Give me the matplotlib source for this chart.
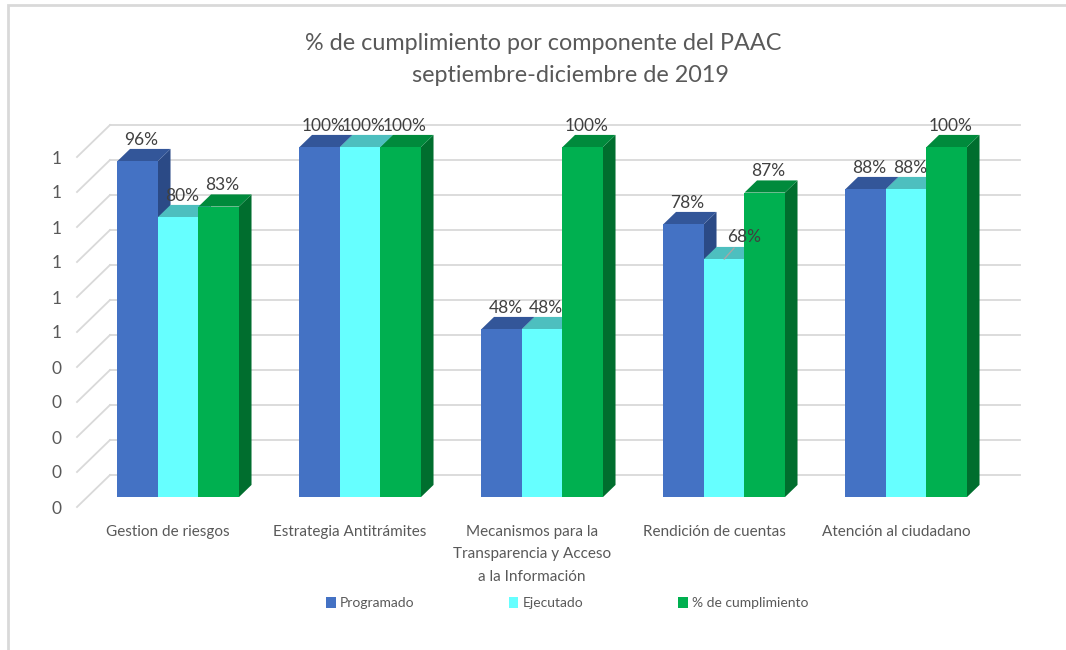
import numpy as np
import matplotlib.pyplot as plt
from matplotlib.patches import Polygon, Patch, Rectangle

# datos
componentes = ['Gestion de riesgos',
               'Estrategia Antitrámites',
               'Mecanismos para la\nTransparencia y Acceso\na la Información',
               'Rendición de cuentas',
               'Atención al ciudadano']
programado = [0.96, 1.00, 0.48, 0.78, 0.88]
ejecutado = [0.80, 1.00, 0.48, 0.68, 0.88]
cumplimiento = [0.83, 1.00, 1.00, 0.87, 1.00]
series = ['Programado', 'Ejecutado', '% de cumplimiento']
ticks_y = np.arange(0, 1.001, 0.1)

# estilo
plt.rcParams['font.family'] = ['Lato', 'DejaVu Sans']
GRIS_TXT = '#595959'
GRIS_GRID = '#D9D9D9'
frente = ['#4472C4', '#66FFFF', '#00B050']
tapa = ['#335699', '#4DBFBF', '#008A3C']
lado = ['#2B4A86', '#3FA6A6', '#006E2E']

W, H = 1066, 650
fig = plt.figure(figsize=(W / 100, H / 100), dpi=100)
ax = fig.add_axes([77 / W, 1 - 507 / H, 910 / W, 350 / H])
ax.set_xlim(-0.5, 4.5)
ax.set_ylim(0, 1)

# profundidad (3D simulado) en unidades de datos
ddx = 33 * 5 / 910
ddy = 32 / 350
f0, f1 = 0.31, 0.69
bw = 40.5 * 5 / 910

# paredes: fondo y lateral
for v in ticks_y:
    ax.plot([-0.5 + ddx, 4.5 + ddx], [v + ddy, v + ddy], color=GRIS_GRID, lw=1.3,
            clip_on=False, zorder=1)
    ax.plot([-0.5, -0.5 + ddx], [v, v + ddy], color=GRIS_GRID, lw=1.3,
            clip_on=False, zorder=1)

# barras
valores = [programado, ejecutado, cumplimiento]
bx, by = (f1 - f0) * ddx, (f1 - f0) * ddy
z = 2
for i in range(len(componentes)):
    for j, vals in enumerate(valores):
        v = vals[i]
        x0 = i + f0 * ddx + (j - 1.5) * bw
        x1 = x0 + bw
        yb = f0 * ddy
        yt = v + f0 * ddy
        ax.add_patch(Polygon([(x1, yb), (x1 + bx, yb + by), (x1 + bx, yt + by), (x1, yt)],
                             closed=True, fc=lado[j], ec='none', clip_on=False, zorder=z))
        ax.add_patch(Polygon([(x0, yt), (x1, yt), (x1 + bx, yt + by), (x0 + bx, yt + by)],
                             closed=True, fc=tapa[j], ec='none', clip_on=False, zorder=z + 1))
        ax.add_patch(Rectangle((x0, yb), bw, v, fc=frente[j], ec='none',
                               clip_on=False, zorder=z + 2))
        z += 3

# etiquetas de datos
for i in range(len(componentes)):
    for j, vals in enumerate(valores):
        v = vals[i]
        xc = i + f0 * ddx + (j - 1.0) * bw + 0.3 * bx
        ytop = v + f0 * ddy + by
        if series[j] == 'Ejecutado' and componentes[i] == 'Rendición de cuentas':
            ax.annotate(f'{v:.0%}', xy=(i + f0 * ddx, v + f0 * ddy), xytext=(14, 10),
                        textcoords='offset points', ha='center', va='bottom',
                        fontsize=12.5, color='#404040', zorder=200,
                        arrowprops=dict(arrowstyle='-', color='#A6A6A6', lw=1,
                                        shrinkA=0, shrinkB=0))
        else:
            ax.text(xc, ytop + 0.004, f'{v:.0%}', ha='center', va='bottom',
                    fontsize=12.5, color='#404040', zorder=200)

# ejes
ax.set_yticks(ticks_y)
ax.set_yticklabels([str(int(np.floor(t + 0.5 + 1e-9))) for t in ticks_y])
ax.set_xticks(range(len(componentes)))
ax.set_xticklabels(componentes, linespacing=1.75)
ax.tick_params(axis='y', length=0, pad=11, labelsize=12.5, labelcolor=GRIS_TXT)
ax.tick_params(axis='x', length=0, pad=13, labelsize=11, labelcolor=GRIS_TXT)
for s in ax.spines.values():
    s.set_visible(False)
ax.patch.set_alpha(0)

# titulo
fig.text(543 / W, 1 - 43 / H, '% de cumplimiento por componente del PAAC',
         ha='center', va='center', fontsize=16.8, color=GRIS_TXT)
fig.text(571 / W, 1 - 75 / H, 'septiembre-diciembre de 2019',
         ha='center', va='center', fontsize=16.8, color=GRIS_TXT)

# leyenda
handles = [Patch(facecolor=c, edgecolor='none') for c in frente]
fig.legend(handles, series, loc='center', bbox_to_anchor=(567 / W, 1 - 603 / H),
           ncol=3, frameon=False, fontsize=10, handlelength=0.7, handleheight=0.8,
           handletextpad=0.3, columnspacing=6.8, labelcolor=GRIS_TXT)

# marco
fig.patches.append(Rectangle((8 / W, -0.1), 1.2, 1.1 - 5 / H, transform=fig.transFigure,
                             fill=False, edgecolor=GRIS_GRID, lw=2))

fig.savefig('out.png', dpi=100, facecolor='white')
